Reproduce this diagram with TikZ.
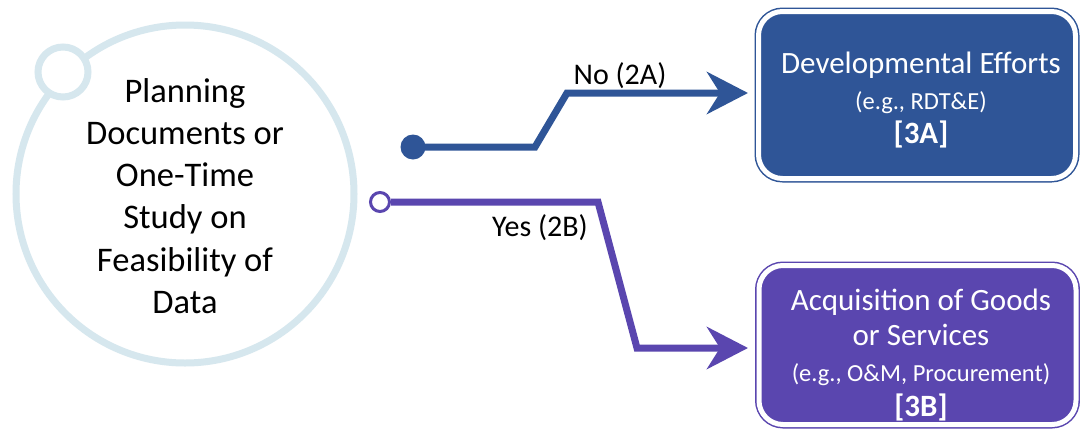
\documentclass[tikz,border=0pt]{standalone}
\usepackage{fontspec}
\setmainfont{Carlito}
\usetikzlibrary{arrows.meta}
\definecolor{cblue}{HTML}{2F5597}
\definecolor{cpurple}{HTML}{5A46AF}
\definecolor{clight}{HTML}{D6E7EE}
\begin{document}
\begin{tikzpicture}[x=1pt,y=-1pt,
  ring/.style={circle, draw=clight, line width=7pt, fill=white, inner sep=0pt},
  box/.style={rounded corners=24pt, line width=1.5pt, double=white, double distance=5pt, inner sep=0pt, outer sep=0pt},
  boxtext/.style={text=white, align=center, inner sep=0pt},
  conn/.style={line width=7pt, -{Stealth[length=41pt,width=42pt,inset=13pt]}},
  lbl/.style={font=\fontsize{30}{36}\selectfont, inner sep=0pt, text=black}
]
\useasboundingbox[fill=white] (0,0) rectangle (1080,432);
% source circle
\node[ring, minimum size=338pt] (src) at (185,194) {};
\node[ring, minimum size=50pt] (knob) at (63,72) {};
\node[align=center, inner sep=0pt, font=\fontsize{34.5}{42.2}\selectfont] (srctext) at (185,196)
  {Planning\\Documents or\\One-Time\\Study on\\Feasibility of\\Data};
% target boxes
\node[box, draw=cblue, fill=cblue, minimum width=317pt, minimum height=167pt] (boxA) at (917,95) {};
\node[boxtext, font=\fontsize{24.5}{34}\selectfont] (boxAtext) at (921,100)
  {{\fontsize{31}{34}\selectfont Developmental Efforts}\\[2pt](e.g., RDT\&E)\\{\fontsize{31}{34}\selectfont\bfseries [3A]}};
\node[box, draw=cpurple, fill=cpurple, minimum width=317pt, minimum height=159pt] (boxB) at (917.5,345) {};
\node[boxtext, font=\fontsize{24.5}{35}\selectfont] (boxBtext) at (921,355)
  {{\fontsize{31}{35}\selectfont Acquisition of Goods}\\{\fontsize{31}{35}\selectfont or Services}\\[1pt](e.g., O\&M, Procurement)\\{\fontsize{31}{35}\selectfont\bfseries [3B]}};
% connector A
\node[circle, fill=cblue, minimum size=25pt, inner sep=0pt] (dotA) at (413,147) {};
\coordinate (a1) at (535,147);
\coordinate (a2) at (567,93);
\draw[conn, cblue, shorten >=10.5pt] (dotA.center) -- (a1) -- (a2) -- (a2 -| boxA.west);
\node[lbl] (lblA) at (620,76) {No (2A)};
% connector B
\node[circle, draw=cpurple, line width=3pt, fill=white, minimum size=19pt, inner sep=0pt] (dotB) at (380,202) {};
\coordinate (b1) at (598,202);
\coordinate (b2) at (637,348);
\draw[conn, cpurple, shorten >=11pt] (dotB.east) -- (b1) -- (b2) -- (b2 -| boxB.west);
\node[lbl] (lblB) at (540,228) {Yes (2B)};
\end{tikzpicture}
\end{document}
